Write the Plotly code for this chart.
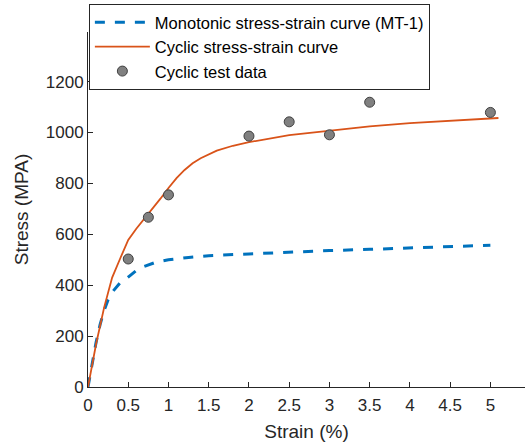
import plotly.graph_objects as go

# Monotonic stress-strain curve (MT-1)
mono_strain = [0, 0.05, 0.1, 0.15, 0.2, 0.25, 0.3, 0.4, 0.5, 0.6, 0.7, 0.85,
               1.0, 1.25, 1.5, 2.0, 2.5, 3.0, 3.5, 4.0, 4.5, 5.0]
mono_stress = [0, 90, 175, 245, 300, 343, 372, 410, 432, 458, 474, 491,
               500, 509, 516, 523, 530, 536, 541, 546, 551, 557]

# Cyclic stress-strain curve
cyc_strain = [0, 0.1, 0.2, 0.3, 0.4, 0.5, 0.6, 0.75, 0.9, 1.0, 1.1, 1.2,
              1.3, 1.4, 1.5, 1.6, 1.8, 2.0, 2.5, 3.0, 3.5, 4.0, 4.5, 5.1]
cyc_stress = [0, 168, 312, 430, 505, 578, 622, 680, 740, 782, 821, 853,
              879, 899, 915, 929, 948, 962, 990, 1008, 1024, 1037, 1047, 1057]

# Cyclic test data
test_strain = [0.5, 0.75, 1.0, 2.0, 2.5, 3.0, 3.5, 5.0]
test_stress = [503, 667, 755, 986, 1042, 991, 1119, 1079]

x_ticks = [0, 0.5, 1, 1.5, 2, 2.5, 3, 3.5, 4, 4.5, 5]
y_ticks = [0, 200, 400, 600, 800, 1000, 1200]

INK = "#262626"
FONT = "Arial, Liberation Sans, sans-serif"

fig = go.Figure()
fig.add_trace(go.Scatter(
    x=mono_strain, y=mono_stress, mode="lines",
    name="Monotonic stress-strain curve (MT-1)",
    line=dict(color="#0072BD", width=3, dash="10px,10px"),
))
fig.add_trace(go.Scatter(
    x=cyc_strain, y=cyc_stress, mode="lines",
    name="Cyclic stress-strain curve",
    line=dict(color="#D95319", width=1.8),
))
fig.add_trace(go.Scatter(
    x=test_strain, y=test_stress, mode="markers",
    name="Cyclic test data",
    marker=dict(color="#808080", size=10, line=dict(color="#404040", width=1)),
))

x_range = [0, 5.43]

fig.update_layout(
    width=525, height=448,
    margin=dict(l=88, r=0, t=32, b=61),
    paper_bgcolor="white", plot_bgcolor="white",
    font=dict(family=FONT, color=INK),
    showlegend=True,
    legend=dict(
        x=0.002, y=1.079, xanchor="left", yanchor="top",
        bgcolor="white", bordercolor=INK, borderwidth=1,
        font=dict(size=16.5, color="black", family=FONT),
        itemwidth=55, tracegroupgap=0,
        entrywidth=285, entrywidthmode="pixels",
    ),
    xaxis=dict(
        range=x_range, tickvals=x_ticks, ticks="inside", ticklen=5,
        tickcolor=INK, showline=True, linecolor=INK, linewidth=1,
        showgrid=False, zeroline=False, mirror=False,
        tickfont=dict(size=17, color=INK), ticklabelstandoff=3,
        title=dict(text="Strain (%)", font=dict(size=19, color=INK), standoff=10),
    ),
    xaxis2=dict(
        range=x_range, tickvals=x_ticks, ticks="inside", ticklen=5,
        tickcolor=INK, showline=True, linecolor=INK, linewidth=1,
        showgrid=False, zeroline=False, showticklabels=False,
        overlaying="x", side="top",
    ),
    yaxis=dict(
        range=[0, 1395], tickvals=y_ticks, ticks="inside", ticklen=5,
        tickcolor=INK, showline=True, linecolor=INK, linewidth=1,
        showgrid=False, zeroline=False, mirror=False,
        tickfont=dict(size=17, color=INK),
        title=dict(text="Stress (MPA)", font=dict(size=19, color=INK), standoff=12),
    ),
)

fig.write_html("out.html")
